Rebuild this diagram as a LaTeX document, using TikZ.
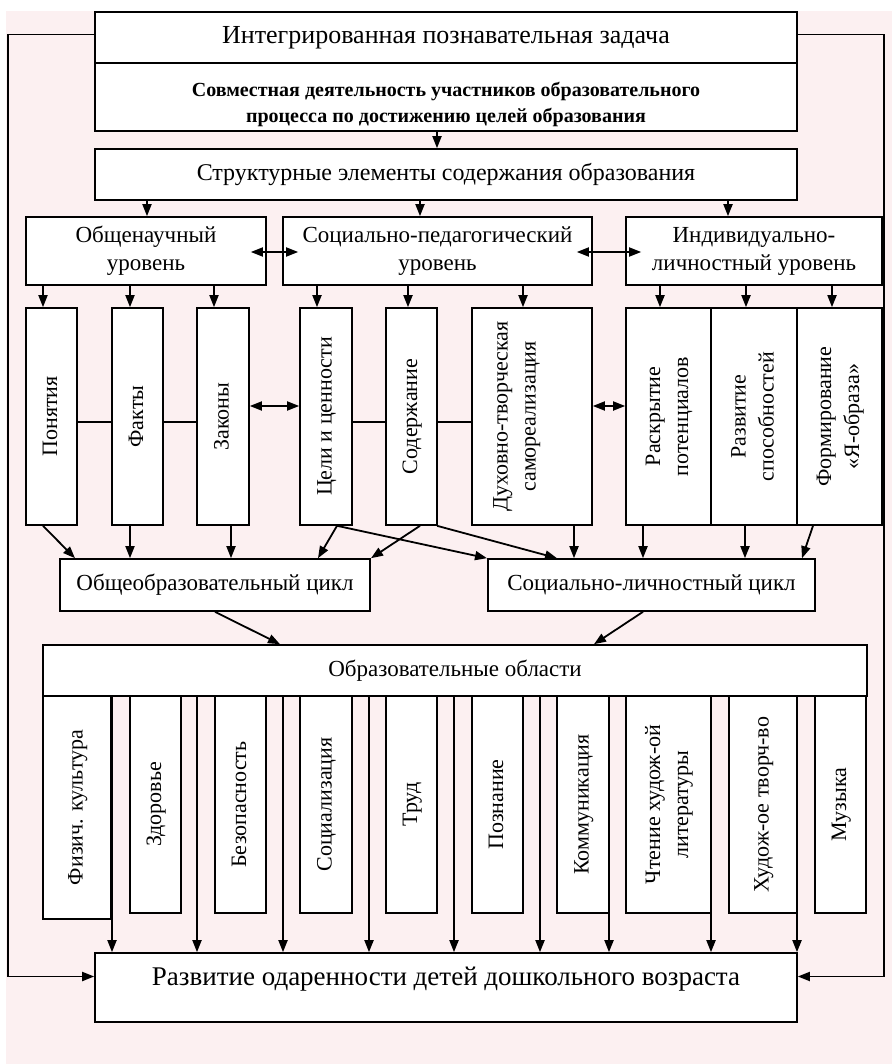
\documentclass[tikz,border=0pt]{standalone}
\usepackage{fontspec}
\setmainfont{Liberation Serif}
\usepackage{graphicx}
\usetikzlibrary{arrows.meta}
\definecolor{bgpink}{RGB}{252,240,241}
\newcommand{\vtext}[1]{\rotatebox{90}{\begin{tabular}{@{}c@{}}#1\end{tabular}}}

\begin{document}
\begin{tikzpicture}[x=1pt,y=-1pt,
    box/.style={draw,line width=1.6pt,fill=white,inner sep=0pt,align=center,
        font=\fontsize{23}{28}\selectfont},
    arr/.style={line width=1.8pt,-{Triangle[length=12pt,width=9pt]}},
    darr/.style={line width=1.8pt,{Triangle[length=12pt,width=9pt]}-{Triangle[length=12pt,width=9pt]}},
    link/.style={line width=1.1pt}]
    % background
    \useasboundingbox (0,0) rectangle (892,1064);
    \fill[bgpink] (6,11) rectangle (892,1064);
    % top blocks
    \node[box,minimum width=702pt,minimum height=51pt,font=\fontsize{26}{30}\selectfont] (zad) at (446,37.5) {Интегрированная познавательная задача};
    \node[box,minimum width=702pt,minimum height=68pt,font=\bfseries\fontsize{20}{26}\selectfont] (sovm) at (446,97) {\rule{0pt}{30pt}Совместная деятельность участников образовательного\\процесса по достижению целей образования};
    \node[box,minimum width=702pt,minimum height=51pt,font=\fontsize{24}{28}\selectfont] (str) at (446,174.5) {Структурные элементы содержания образования};
    \draw[arr] (437,0 |- sovm.south) -- (437,0 |- str.north);
    % levels
    \node[box,minimum width=240pt,minimum height=68pt] (obn) at (146,251) {Общенаучный\\уровень};
    \node[box,minimum width=309pt,minimum height=68pt] (spu) at (437.5,251) {Социально-педагогический\\уровень};
    \node[box,minimum width=256pt,minimum height=68pt] (ilu) at (754,251) {Индивидуально-\\личностный уровень};
    \foreach \x/\b in {147/obn, 420/spu, 728/ilu} {
        \draw[arr] (\x,0 |- str.south) -- (\x,0 |- \b.north);
    }
    \draw[darr,shorten <=-16pt,shorten >=-16pt] (obn.east |- 0,252) -- (spu.west |- 0,252);
    \draw[darr,shorten <=-16pt,shorten >=-16pt] (spu.east |- 0,252) -- (ilu.west |- 0,252);
    % elements of the levels
    \foreach \n/\x/\w/\t in {pon/51.5/51/Понятия, fak/137.5/51/Факты, zak/223/52/Законы,
        cel/326/52/Цели и ценности, sod/411.5/51/Содержание,
        rsk/668.5/85/{Раскрытие\\потенциалов}, rzv/754/86/{Развитие\\способностей},
        frm/839.5/85/{Формирование\\«Я-образа»}} {
        \node[box,minimum width=\w pt,minimum height=217pt,font=\fontsize{22}{28}\selectfont] (\n) at (\x,416.5) {\vtext{\t}};
    }
    \node[box,minimum width=120pt,minimum height=217pt,font=\fontsize{22}{28}\selectfont] (dux) at (532,416.5) {\vtext{Духовно-творческая\\самореализация}\hspace*{32pt}};
    \foreach \x/\a/\b in {43/obn/pon, 130/obn/fak, 214/obn/zak, 317/spu/cel, 408/spu/sod,
        523/spu/dux, 660/ilu/rsk, 746/ilu/rzv, 832/ilu/frm} {
        \draw[arr] (\x,0 |- \a.south) -- (\x,0 |- \b.north);
    }
    \draw[link] (pon.east |- 0,422) -- (fak.west |- 0,422);
    \draw[link] (fak.east |- 0,422) -- (zak.west |- 0,422);
    \draw[link] (cel.east |- 0,422) -- (sod.west |- 0,422);
    \draw[link] (sod.east |- 0,422) -- (dux.west |- 0,422);
    \draw[darr] (zak.east |- 0,406) -- (cel.west |- 0,406);
    \draw[darr] (dux.east |- 0,406) -- (rsk.west |- 0,406);
    % cycles
    \node[box,minimum width=310pt,minimum height=52pt] (ooc) at (215,585) {Общеобразовательный цикл};
    \node[box,minimum width=327pt,minimum height=52pt] (slc) at (651.5,585) {Социально-личностный цикл};
    \draw[arr] (43,0 |- pon.south) -- (75,0 |- ooc.north);
    \draw[arr] (130,0 |- fak.south) -- (130,0 |- ooc.north);
    \draw[arr] (231,0 |- zak.south) -- (231,0 |- ooc.north);
    \draw[arr] (337,0 |- cel.south) -- (318,0 |- ooc.north);
    \draw[arr] (337,0 |- cel.south) -- (487,0 |- slc.north);
    \draw[arr] (420,0 |- sod.south) -- (371,0 |- ooc.north);
    \draw[arr] (437,0 |- sod.south) -- (557,0 |- slc.north);
    \draw[arr] (574,0 |- dux.south) -- (574,0 |- slc.north);
    \draw[arr] (643,0 |- rsk.south) -- (643,0 |- slc.north);
    \draw[arr] (745,0 |- rzv.south) -- (745,0 |- slc.north);
    \draw[arr] (813,0 |- frm.south) -- (802,0 |- slc.north);
    % educational areas
    \node[box,minimum width=824pt,minimum height=51pt] (obl) at (455,670.5) {Образовательные области};
    \draw[arr] (215,0 |- ooc.south) -- (280,0 |- obl.north);
    \draw[arr] (643,0 |- slc.south) -- (594,0 |- obl.north);
    \node[box,minimum width=68pt,minimum height=223pt,font=\fontsize{22}{28}\selectfont] (fiz) at (77,807.5) {\vtext{Физич. культура}};
    \foreach \n/\x/\w/\t in {zdr/155.5/51/Здоровье, bez/240.5/51/Безопасность,
        sci/326/52/Социализация, trd/411.5/51/Труд, poz/497.5/51/Познание,
        kom/583/52/Коммуникация, cht/668.5/85/{Чтение худож-ой\\литературы},
        hud/763/68/Худож-ое творч-во, muz/840.5/51/Музыка} {
        \node[box,minimum width=\w pt,minimum height=217pt,font=\fontsize{22}{28}\selectfont] (\n) at (\x,804.5) {\vtext{\t}};
    }
    % result
    \node[box,minimum width=702pt,minimum height=69pt,text depth=22pt,font=\fontsize{27}{30}\selectfont] (rzd) at (446,987.5) {Развитие одаренности детей дошкольного возраста};
    \foreach \x in {112,197,283,369,454,540,609,711,797} {
        \draw[arr] (\x,0 |- obl.south) -- (\x,0 |- rzd.north);
    }
    % feedback
    \draw[arr] ([yshift=3pt]zad.west) -- ++(-86,0) |- ([yshift=11pt]rzd.west);
    \draw[arr] ([yshift=3pt]zad.east) -- ++(86,0) |- ([yshift=11pt]rzd.east);
\end{tikzpicture}
\end{document}
